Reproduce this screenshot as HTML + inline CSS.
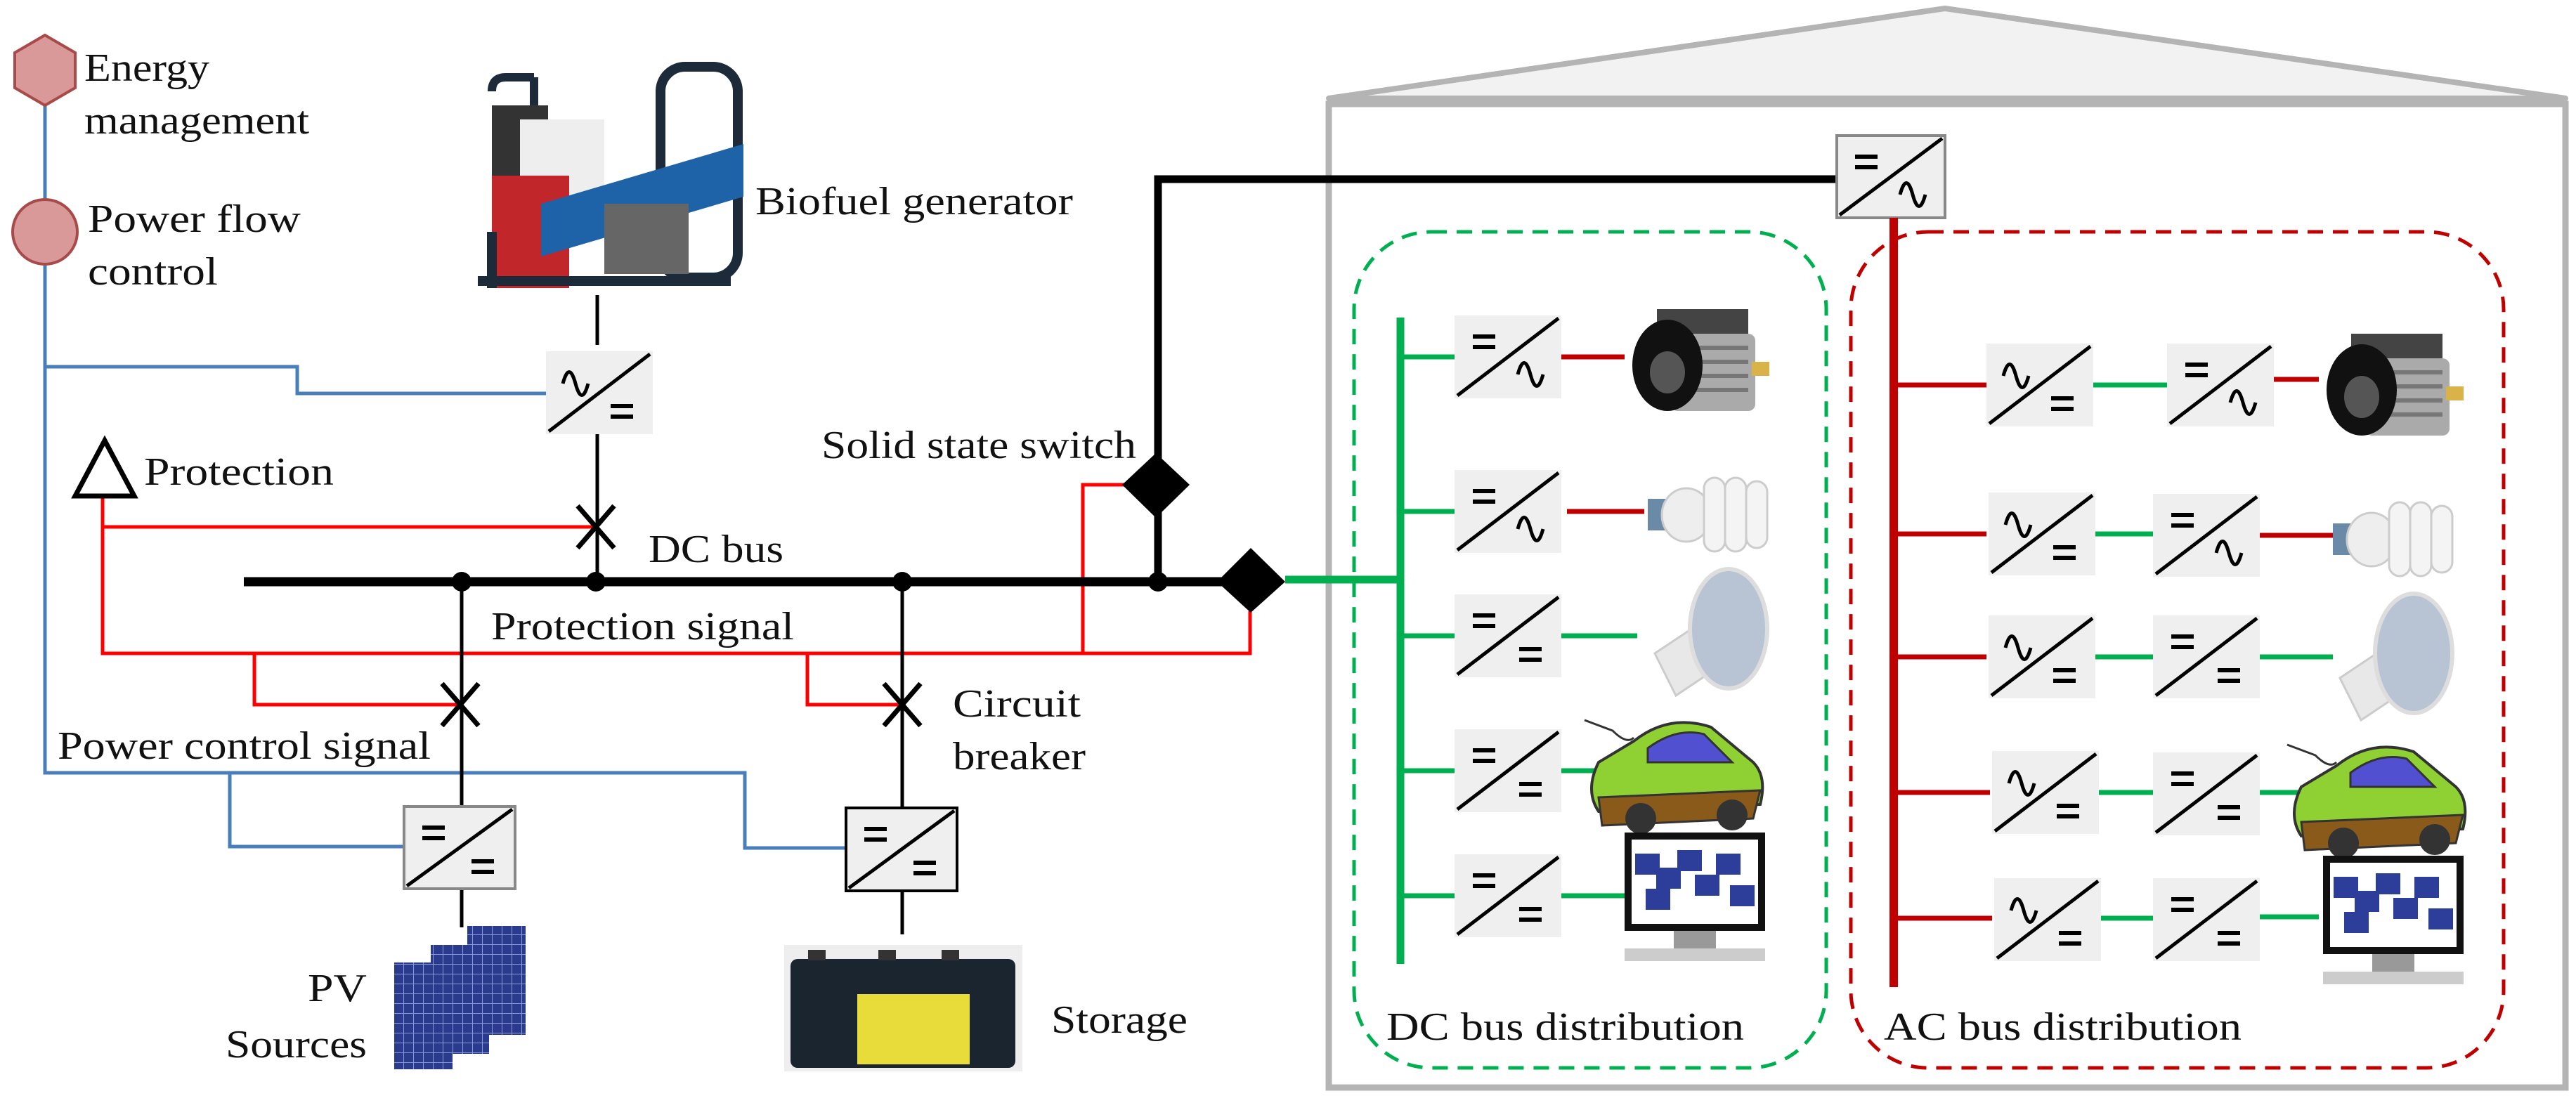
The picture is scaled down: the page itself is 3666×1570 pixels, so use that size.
<!DOCTYPE html>
<html><head><meta charset="utf-8"><style>
html,body{margin:0;padding:0;background:#fff;}
svg{display:block;}
.t text{font-family:"Liberation Serif","DejaVu Serif","Noto Serif CJK SC",serif !important;font-size:56px;fill:#111;}
</style></head><body>
<svg width="3666" height="1570" viewBox="0 0 3666 1570" xmlns="http://www.w3.org/2000/svg">
<defs>
<g id="box"><rect x="0" y="0" width="152" height="118" fill="#efefef"/><line x1="4" y1="114" x2="148" y2="4" stroke="#000" stroke-width="5"/></g>
<path id="eqA" d="M26 30h32M26 45h32" stroke="#000" stroke-width="6" fill="none"/>
<path id="eqB" d="M92 78h32M92 93h32" stroke="#000" stroke-width="6" fill="none"/>
<path id="tiA" d="M24 46c6-22 12-22 18 0s12 22 18 0" stroke="#000" stroke-width="5" fill="none"/>
<path id="tiB" d="M90 84c6-22 12-22 18 0s12 22 18 0" stroke="#000" stroke-width="5" fill="none"/>
<pattern id="pv" width="14" height="14" patternUnits="userSpaceOnUse"><rect width="14" height="14" fill="#2a3a8c"/><path d="M0 0h14M0 0v14" stroke="#8a9ad8" stroke-width="2"/></pattern>
<g id="motor"><rect x="40" y="20" width="130" height="40" fill="#444"/><rect x="60" y="55" width="120" height="110" rx="10" fill="#aaa"/><path d="M70 75h100M70 95h100M70 115h100M70 135h100" stroke="#777" stroke-width="6"/><ellipse cx="55" cy="100" rx="50" ry="65" fill="#111"/><ellipse cx="55" cy="110" rx="25" ry="30" fill="#555"/><rect x="175" y="95" width="25" height="20" fill="#d9b24a"/></g>
<g id="cfl"><rect x="0" y="35" width="30" height="45" fill="#6a8aa8"/><ellipse cx="55" cy="58" rx="35" ry="38" fill="#eee" stroke="#ccc" stroke-width="3"/><g fill="#f4f4f4" stroke="#ccc" stroke-width="3"><rect x="80" y="5" width="30" height="105" rx="15"/><rect x="110" y="5" width="30" height="105" rx="15"/><rect x="140" y="10" width="30" height="95" rx="15"/></g></g>
<g id="led"><path d="M10 120 l60 -40 l30 60 l-60 40z" fill="#e8e8e8" stroke="#ccc" stroke-width="3"/><ellipse cx="115" cy="85" rx="55" ry="85" fill="#b8c4d4" stroke="#ddd" stroke-width="6"/></g>
<g id="car"><path d="M70 40 q50 -40 110 -20 l60 50 q20 20 10 60 l-230 10 q-20 -30 0 -70z" fill="#8fd132" stroke="#333" stroke-width="4"/><path d="M90 50 q40 -30 80 -20 l40 40 l-120 0z" fill="#5050d0" stroke="#333" stroke-width="3"/><path d="M20 120 l230 -10 l-10 40 l-215 10z" fill="#8a5a1a" stroke="#333" stroke-width="3"/><circle cx="80" cy="150" r="22" fill="#333"/><circle cx="210" cy="145" r="22" fill="#333"/><path d="M0 10 l40 15 q20 20 30 10" stroke="#333" stroke-width="3" fill="none"/></g>
<g id="mon"><rect x="0" y="0" width="200" height="140" fill="#111"/><rect x="10" y="10" width="180" height="120" fill="#fff"/><g fill="#2c3e9a"><rect x="15" y="30" width="35" height="30"/><rect x="45" y="50" width="35" height="30"/><rect x="75" y="25" width="35" height="30"/><rect x="100" y="60" width="35" height="30"/><rect x="130" y="30" width="35" height="30"/><rect x="30" y="80" width="35" height="30"/><rect x="150" y="75" width="35" height="30"/></g><rect x="70" y="140" width="60" height="25" fill="#999"/><rect x="0" y="165" width="200" height="18" fill="#ccc"/></g>
</defs>

<polygon points="1891,140 2768,12 3651,140" fill="#f2f2f2" stroke="#b4b4b4" stroke-width="8" stroke-linejoin="round"/>
<rect x="1891" y="148" width="1760" height="1400" fill="none" stroke="#b4b4b4" stroke-width="9"/>

<rect x="1927" y="330" width="672" height="1190" rx="110" fill="none" stroke="#00b050" stroke-width="5" stroke-dasharray="22 14"/>
<rect x="2634" y="330" width="929" height="1190" rx="110" fill="none" stroke="#c00000" stroke-width="5" stroke-dasharray="22 14"/>

<g stroke="#4a7ebb" stroke-width="5" fill="none">
<path d="M64 150V1100H1060V1207H1204"/>
<path d="M64 522H423V560H777"/>
<path d="M327 1100V1205H575"/>
</g>
<polygon points="64,50 107,75 107,125 64,150 21,125 21,75" fill="#d99999" stroke="#a94a4a" stroke-width="4"/>
<circle cx="64" cy="330" r="46" fill="#d99999" stroke="#a94a4a" stroke-width="4"/>

<g stroke="#ff0000" stroke-width="5" fill="none">
<path d="M146 708V930H1779V870"/>
<path d="M146 750H848"/>
<path d="M362 930V1003H655"/>
<path d="M1149 930V1003H1284"/>
<path d="M1541 930V690H1600"/>
</g>

<g>
<path d="M700 130 q0 -20 20 -20 h40 M760 110 v50" stroke="#1c2a3a" stroke-width="12" fill="none"/>
<rect x="940" y="95" width="110" height="300" rx="35" fill="none" stroke="#1c2a3a" stroke-width="14"/>
<rect x="700" y="150" width="80" height="120" fill="#333"/>
<rect x="740" y="170" width="120" height="110" fill="#eee"/>
<rect x="700" y="250" width="110" height="160" fill="#c0262a"/>
<polygon points="770,290 1058,205 1058,280 770,365" fill="#1e62a8"/>
<rect x="860" y="290" width="120" height="100" fill="#666"/>
<path d="M680 400 h360 M700 330 v80" stroke="#1c2a3a" stroke-width="14" fill="none"/>
</g>
<line x1="850" y1="420" x2="850" y2="491" stroke="#000" stroke-width="5"/>
<g transform="translate(777,500)"><use href="#box"/><use href="#tiA"/><use href="#eqB"/></g>
<line x1="850" y1="618" x2="850" y2="828" stroke="#000" stroke-width="5"/>

<path d="M657 828V1148M657 1265V1320" stroke="#000" stroke-width="5"/>
<path d="M1284 828V1150M1284 1268V1330" stroke="#000" stroke-width="5"/>

<line x1="347" y1="828" x2="1740" y2="828" stroke="#000" stroke-width="13"/>
<path d="M1648 828V255H2614" stroke="#000" stroke-width="11" fill="none"/>
<g fill="#000"><circle cx="657" cy="828" r="14"/><circle cx="848" cy="828" r="14"/><circle cx="1284" cy="828" r="14"/><circle cx="1648" cy="828" r="14"/></g>
<polygon points="1645,645 1693,690 1645,737 1597,690" fill="#000"/>
<polygon points="1780,780 1829,828 1780,872 1732,828" fill="#000"/>

<g stroke="#000" stroke-width="7">
<path d="M822 720L874 780M874 720L822 780"/>
<path d="M629 973L681 1033M681 973L629 1033"/>
<path d="M1258 973L1310 1033M1310 973L1258 1033"/>
</g>

<polygon points="149,627 191,706 107,706" fill="#fff" stroke="#000" stroke-width="7"/>

<g transform="translate(575,1148)"><rect x="0" y="0" width="158" height="117" fill="#efefef" stroke="#888" stroke-width="4"/><line x1="4" y1="113" x2="154" y2="4" stroke="#000" stroke-width="5"/><use href="#eqA"/><use href="#eqB" transform="translate(4,0)"/></g>
<g transform="translate(1204,1150)"><rect x="0" y="0" width="158" height="118" fill="#efefef" stroke="#000" stroke-width="4"/><line x1="4" y1="114" x2="154" y2="4" stroke="#000" stroke-width="5"/><use href="#eqA"/><use href="#eqB" transform="translate(4,0)"/></g>

<rect x="665" y="1318" width="83" height="155" fill="url(#pv)"/>
<rect x="613" y="1345" width="83" height="155" fill="url(#pv)"/>
<rect x="561" y="1370" width="83" height="152" fill="url(#pv)"/>

<rect x="1116" y="1345" width="339" height="180" fill="#eee"/>
<rect x="1125" y="1365" width="320" height="155" rx="10" fill="#1b2530"/>
<rect x="1220" y="1415" width="160" height="100" fill="#e8dc3a"/>
<g fill="#333"><rect x="1150" y="1352" width="25" height="15"/><rect x="1250" y="1352" width="25" height="15"/><rect x="1340" y="1352" width="25" height="15"/></g>

<g transform="translate(2614,193)"><rect x="0" y="0" width="154" height="117" fill="#efefef" stroke="#888" stroke-width="4"/><line x1="4" y1="113" x2="150" y2="4" stroke="#000" stroke-width="5"/><use href="#eqA"/><use href="#tiB"/></g>

<line x1="1829" y1="825" x2="1993" y2="825" stroke="#00b050" stroke-width="11"/>
<line x1="1993" y1="452" x2="1993" y2="1372" stroke="#00b050" stroke-width="11"/>
<line x1="2695" y1="310" x2="2695" y2="1405" stroke="#c00000" stroke-width="12"/>

<g stroke-width="7">
<path d="M1993 508H2070M1993 728H2070M1993 905H2070M1993 1097H2070M1993 1275H2070" stroke="#00b050"/>
<path d="M2222 508H2312M2230 728H2340" stroke="#c00000"/>
<path d="M2222 905H2330M2222 1097H2320M2222 1275H2312" stroke="#00b050"/>
</g>
<g transform="translate(2070,449)"><use href="#box"/><use href="#eqA"/><use href="#tiB"/></g>
<g transform="translate(2070,669)"><use href="#box"/><use href="#eqA"/><use href="#tiB"/></g>
<g transform="translate(2070,846)"><use href="#box"/><use href="#eqA"/><use href="#eqB"/></g>
<g transform="translate(2070,1038)"><use href="#box"/><use href="#eqA"/><use href="#eqB"/></g>
<g transform="translate(2070,1216)"><use href="#box"/><use href="#eqA"/><use href="#eqB"/></g>
<use href="#motor" transform="translate(2318,420)"/>
<use href="#cfl" transform="translate(2345,675)"/>
<use href="#led" transform="translate(2345,810)"/>
<use href="#car" transform="translate(2255,1015)"/>
<use href="#mon" transform="translate(2312,1185)"/>

<g stroke-width="7">
<path d="M2695 548H2827M2695 760H2827M2695 935H2827M2695 1128H2832M2695 1307H2835" stroke="#c00000"/>
<path d="M2979 548H3084M2979 760H3064M2979 935H3064M2984 1128H3064M2987 1307H3064" stroke="#00b050"/>
<path d="M3236 540H3300M3216 762H3320" stroke="#c00000"/>
<path d="M3216 935H3320M3216 1128H3310M3216 1305H3300" stroke="#00b050"/>
</g>
<g transform="translate(2827,489)"><use href="#box"/><use href="#tiA"/><use href="#eqB"/></g>
<g transform="translate(3084,489)"><use href="#box"/><use href="#eqA"/><use href="#tiB"/></g>
<g transform="translate(2830,701)"><use href="#box"/><use href="#tiA"/><use href="#eqB"/></g>
<g transform="translate(3064,703)"><use href="#box"/><use href="#eqA"/><use href="#tiB"/></g>
<g transform="translate(2830,876)"><use href="#box"/><use href="#tiA"/><use href="#eqB"/></g>
<g transform="translate(3064,876)"><use href="#box"/><use href="#eqA"/><use href="#eqB"/></g>
<g transform="translate(2835,1069)"><use href="#box"/><use href="#tiA"/><use href="#eqB"/></g>
<g transform="translate(3064,1071)"><use href="#box"/><use href="#eqA"/><use href="#eqB"/></g>
<g transform="translate(2838,1250)"><use href="#box"/><use href="#tiA"/><use href="#eqB"/></g>
<g transform="translate(3064,1250)"><use href="#box"/><use href="#eqA"/><use href="#eqB"/></g>
<use href="#motor" transform="translate(3306,455)"/>
<use href="#cfl" transform="translate(3320,710)"/>
<use href="#led" transform="translate(3320,845)"/>
<use href="#car" transform="translate(3255,1050)"/>
<use href="#mon" transform="translate(3306,1218)"/>

<g class="t" font-family="'Liberation Serif', 'DejaVu Serif', serif" font-size="56" fill="#111">
<text x="120" y="115" textLength="178" lengthAdjust="spacingAndGlyphs">Energy</text>
<text x="120" y="190" textLength="320" lengthAdjust="spacingAndGlyphs">management</text>
<text x="125" y="330" textLength="303" lengthAdjust="spacingAndGlyphs">Power flow</text>
<text x="125" y="405" textLength="185" lengthAdjust="spacingAndGlyphs">control</text>
<text x="1075" y="305" textLength="452" lengthAdjust="spacingAndGlyphs">Biofuel generator</text>
<text x="205" y="690" textLength="270" lengthAdjust="spacingAndGlyphs">Protection</text>
<text x="923" y="800" textLength="192" lengthAdjust="spacingAndGlyphs">DC bus</text>
<text x="699" y="910" textLength="431" lengthAdjust="spacingAndGlyphs">Protection signal</text>
<text x="1169" y="652" textLength="448" lengthAdjust="spacingAndGlyphs">Solid state switch</text>
<text x="1356" y="1020" textLength="182" lengthAdjust="spacingAndGlyphs">Circuit</text>
<text x="1356" y="1095" textLength="189" lengthAdjust="spacingAndGlyphs">breaker</text>
<text x="82" y="1080" textLength="531" lengthAdjust="spacingAndGlyphs">Power control signal</text>
<text x="438" y="1425" textLength="84" lengthAdjust="spacingAndGlyphs">PV</text>
<text x="321" y="1505" textLength="201" lengthAdjust="spacingAndGlyphs">Sources</text>
<text x="1496" y="1470" textLength="194" lengthAdjust="spacingAndGlyphs">Storage</text>
<text x="1973" y="1480" textLength="509" lengthAdjust="spacingAndGlyphs">DC bus distribution</text>
<text x="2681" y="1480" textLength="509" lengthAdjust="spacingAndGlyphs">AC bus distribution</text>
</g>
</svg>
</body></html>
